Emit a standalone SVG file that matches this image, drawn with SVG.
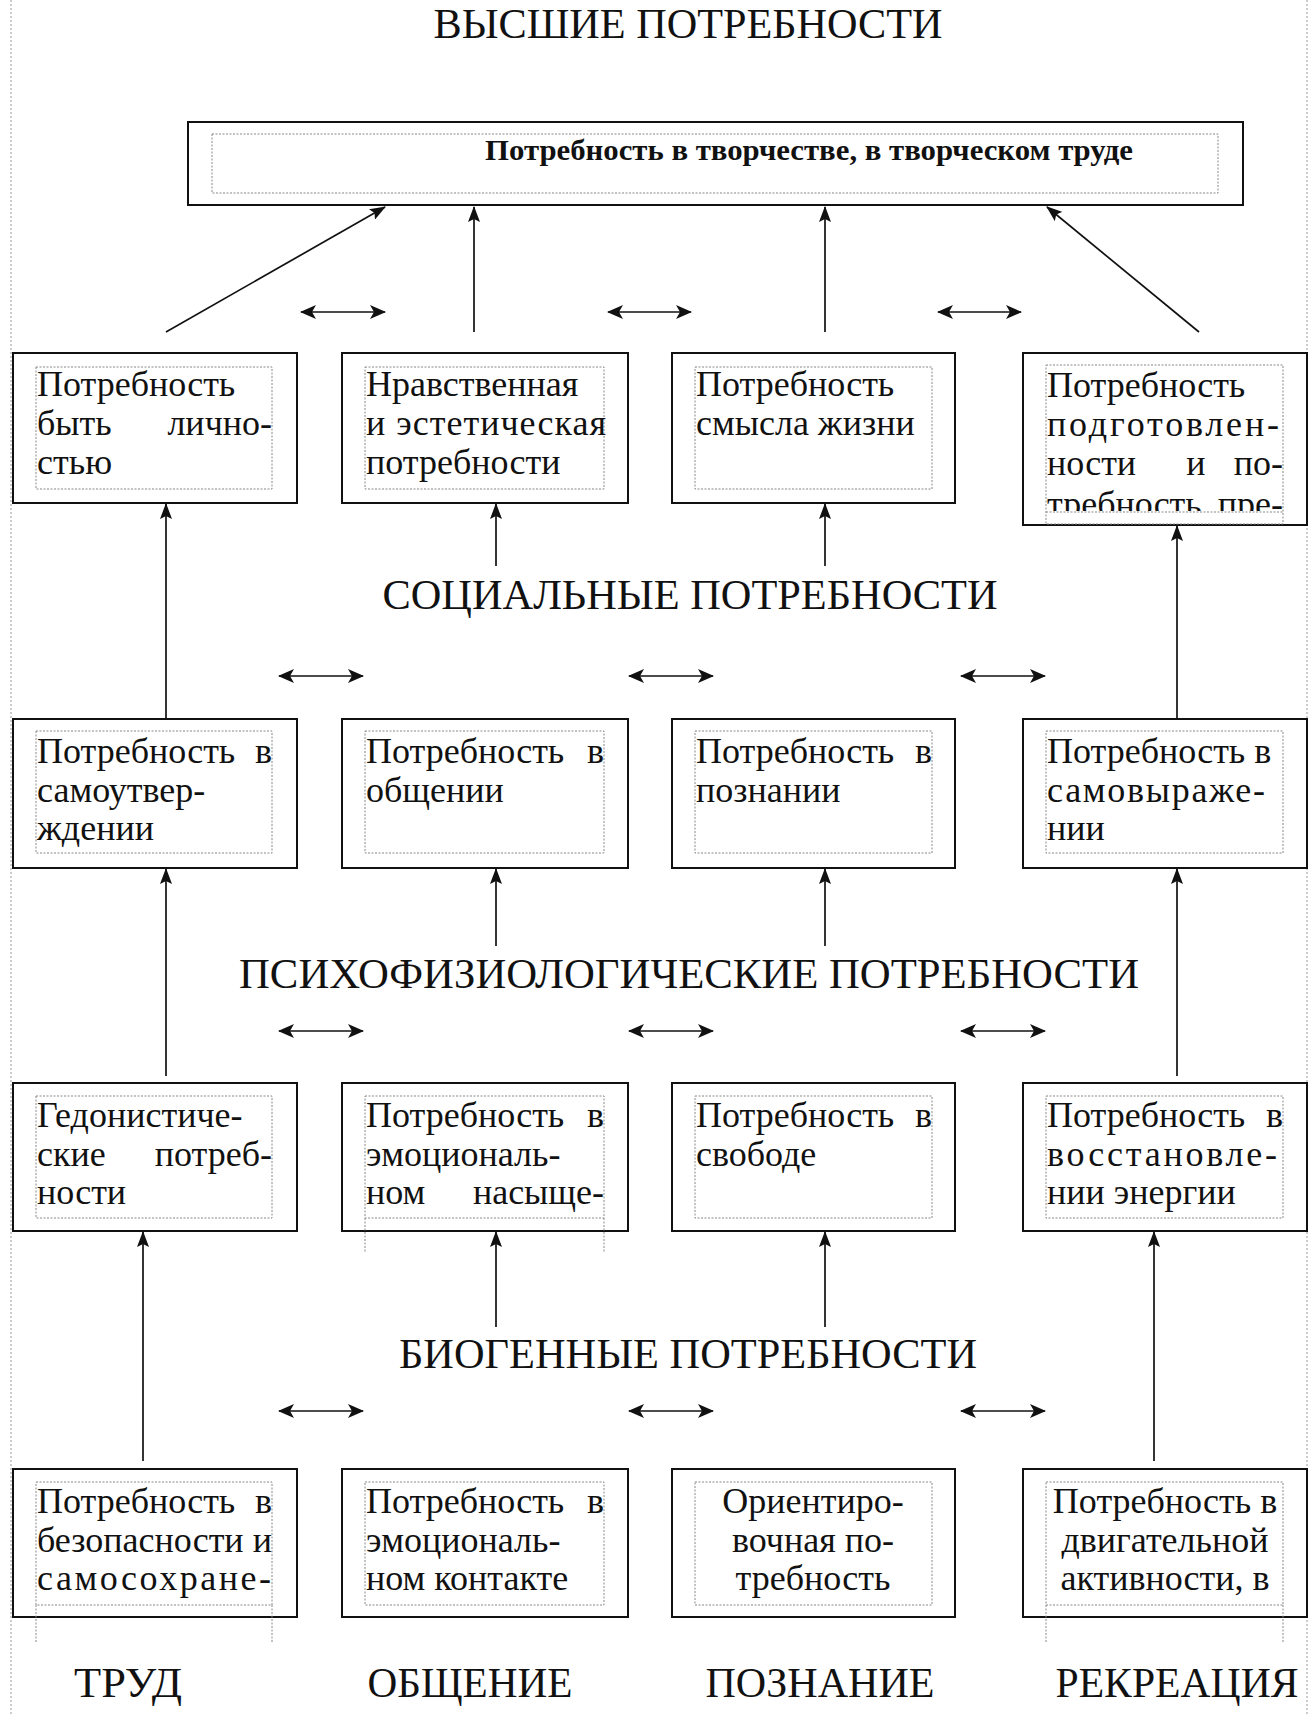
<svg xmlns="http://www.w3.org/2000/svg" width="1314" height="1715" viewBox="0 0 1314 1715">
<style>
  .page{stroke:#999;stroke-width:1;stroke-dasharray:2 2;fill:none}
  .box{fill:#fff;stroke:#111;stroke-width:2}
  .inner{fill:none;stroke:#888;stroke-width:1;stroke-dasharray:2 1.5}
  .t{font-family:"Liberation Serif","Times New Roman",serif;font-size:36px;fill:#111}
  .e{text-anchor:end}
  .m{text-anchor:middle}
  .h{font-family:"Liberation Serif","Times New Roman",serif;font-size:42px;fill:#111;text-anchor:middle}
  .tb{font-family:"Liberation Serif","Times New Roman",serif;font-size:30px;font-weight:bold;fill:#111}
  .ln{stroke:#111;stroke-width:1.7;fill:none}
</style>
<defs>
  <marker id="ah" viewBox="0 0 16 12" refX="15" refY="6" markerWidth="16" markerHeight="12" markerUnits="userSpaceOnUse" orient="auto">
    <path d="M0,0 L16,6 L0,12 L3,6 Z" fill="#111"/>
  </marker>
  <marker id="dh" viewBox="0 0 16 14" refX="15" refY="7" markerWidth="16" markerHeight="14" markerUnits="userSpaceOnUse" orient="auto">
    <path d="M0,0 L16,7 L0,14 L4,7 Z" fill="#111"/>
  </marker>
  <marker id="ds" viewBox="0 0 16 14" refX="1" refY="7" markerWidth="16" markerHeight="14" markerUnits="userSpaceOnUse" orient="auto">
    <path d="M16,0 L0,7 L16,14 L12,7 Z" fill="#111"/>
  </marker>
  <clipPath id="clipD1"><rect x="1040" y="360" width="250" height="151"/></clipPath>
</defs>
<rect x="0" y="0" width="1314" height="1715" fill="#fff"/>
<line class="page" x1="11" y1="0" x2="11" y2="1715"/>
<line class="page" x1="1307" y1="0" x2="1307" y2="1715"/>

<g id="headings">
  <text class="h" x="688" y="38" textLength="509" lengthAdjust="spacingAndGlyphs">ВЫСШИЕ ПОТРЕБНОСТИ</text>
  <text class="h" x="690" y="609" textLength="615" lengthAdjust="spacingAndGlyphs">СОЦИАЛЬНЫЕ ПОТРЕБНОСТИ</text>
  <text class="h" x="689" y="988" textLength="900" lengthAdjust="spacingAndGlyphs">ПСИХОФИЗИОЛОГИЧЕСКИЕ ПОТРЕБНОСТИ</text>
  <text class="h" x="688" y="1368" textLength="578" lengthAdjust="spacingAndGlyphs">БИОГЕННЫЕ ПОТРЕБНОСТИ</text>
  <text class="h" x="128" y="1697" textLength="108" lengthAdjust="spacingAndGlyphs">ТРУД</text>
  <text class="h" x="470" y="1697" textLength="205" lengthAdjust="spacingAndGlyphs">ОБЩЕНИЕ</text>
  <text class="h" x="820" y="1697" textLength="229" lengthAdjust="spacingAndGlyphs">ПОЗНАНИЕ</text>
  <text class="h" x="1177" y="1697" textLength="243" lengthAdjust="spacingAndGlyphs">РЕКРЕАЦИЯ</text>
</g>

<g id="top">
  <rect class="box" x="188" y="122" width="1055" height="83"/>
  <rect class="inner" x="212" y="134" width="1006" height="59"/>
  <text class="tb" x="485" y="160" textLength="648" lengthAdjust="spacingAndGlyphs">Потребность в творчестве, в творческом труде</text>
</g>

<g id="r1a">
  <rect class="box" x="13" y="353" width="284" height="150"/>
  <rect class="inner" x="36" y="367" width="236" height="122"/>
  <text class="t" x="37" y="396">Потребность</text>
  <text class="t" x="37" y="435">быть</text><text class="t e" x="272" y="435">лично-</text>
  <text class="t" x="37" y="474">стью</text>
</g>
<g id="r1b">
  <rect class="box" x="342" y="353" width="286" height="150"/>
  <rect class="inner" x="365" y="367" width="239" height="122"/>
  <text class="t" x="366" y="396">Нравственная</text>
  <text class="t" x="366" y="435" textLength="240" lengthAdjust="spacing">и эстетическая</text>
  <text class="t" x="366" y="474">потребности</text>
</g>
<g id="r1c">
  <rect class="box" x="672" y="353" width="283" height="150"/>
  <rect class="inner" x="695" y="367" width="237" height="122"/>
  <text class="t" x="696" y="396">Потребность</text>
  <text class="t" x="696" y="435">смысла жизни</text>
</g>
<g id="r1d">
  <rect class="box" x="1023" y="353" width="284" height="172"/>
  <rect class="inner" x="1046" y="365" width="237" height="159"/>
  <g clip-path="url(#clipD1)">
    <text class="t" x="1047" y="397">Потребность</text>
    <text class="t" x="1047" y="436" textLength="232" lengthAdjust="spacing">подготовлен-</text>
    <text class="t" x="1047" y="475">ности</text><text class="t m" x="1196" y="475">и</text><text class="t e" x="1283" y="475">по-</text>
    <text class="t" x="1047" y="516">требность</text><text class="t e" x="1283" y="516">пре-</text>
  </g>
  <line class="inner" x1="1046" y1="512" x2="1283" y2="512"/>
</g>

<g id="r2a">
  <rect class="box" x="13" y="719" width="284" height="149"/>
  <rect class="inner" x="36" y="731" width="236" height="122"/>
  <text class="t" x="37" y="763">Потребность</text><text class="t e" x="272" y="763">в</text>
  <text class="t" x="37" y="802">самоутвер-</text>
  <text class="t" x="37" y="840">ждении</text>
</g>
<g id="r2b">
  <rect class="box" x="342" y="719" width="286" height="149"/>
  <rect class="inner" x="365" y="731" width="239" height="122"/>
  <text class="t" x="366" y="763">Потребность</text><text class="t e" x="604" y="763">в</text>
  <text class="t" x="366" y="802">общении</text>
</g>
<g id="r2c">
  <rect class="box" x="672" y="719" width="283" height="149"/>
  <rect class="inner" x="695" y="731" width="237" height="122"/>
  <text class="t" x="696" y="763">Потребность</text><text class="t e" x="932" y="763">в</text>
  <text class="t" x="696" y="802">познании</text>
</g>
<g id="r2d">
  <rect class="box" x="1023" y="719" width="284" height="149"/>
  <rect class="inner" x="1046" y="731" width="237" height="122"/>
  <text class="t" x="1047" y="763">Потребность в</text>
  <text class="t" x="1047" y="802" textLength="218" lengthAdjust="spacing">самовыраже-</text>
  <text class="t" x="1047" y="840">нии</text>
</g>

<g id="r3a">
  <rect class="box" x="13" y="1083" width="284" height="148"/>
  <rect class="inner" x="36" y="1096" width="236" height="122"/>
  <text class="t" x="37" y="1127">Гедонистиче-</text>
  <text class="t" x="37" y="1166">ские</text><text class="t e" x="272" y="1166">потреб-</text>
  <text class="t" x="37" y="1204">ности</text>
</g>
<g id="r3b">
  <rect class="box" x="342" y="1083" width="286" height="148"/>
  <rect class="inner" x="365" y="1096" width="239" height="122"/>
  <line class="inner" x1="365" y1="1218" x2="365" y2="1253"/>
  <line class="inner" x1="604" y1="1218" x2="604" y2="1253"/>
  <text class="t" x="366" y="1127">Потребность</text><text class="t e" x="604" y="1127">в</text>
  <text class="t" x="366" y="1166">эмоциональ-</text>
  <text class="t" x="366" y="1204">ном</text><text class="t e" x="604" y="1204">насыще-</text>
</g>
<g id="r3c">
  <rect class="box" x="672" y="1083" width="283" height="148"/>
  <rect class="inner" x="695" y="1096" width="237" height="122"/>
  <text class="t" x="696" y="1127">Потребность</text><text class="t e" x="932" y="1127">в</text>
  <text class="t" x="696" y="1166">свободе</text>
</g>
<g id="r3d">
  <rect class="box" x="1023" y="1083" width="284" height="148"/>
  <rect class="inner" x="1046" y="1096" width="237" height="122"/>
  <text class="t" x="1047" y="1127">Потребность</text><text class="t e" x="1283" y="1127">в</text>
  <text class="t" x="1047" y="1166" textLength="230" lengthAdjust="spacing">восстановле-</text>
  <text class="t" x="1047" y="1204">нии энергии</text>
</g>

<g id="r4a">
  <rect class="box" x="13" y="1469" width="284" height="148"/>
  <rect class="inner" x="36" y="1482" width="236" height="123"/>
  <line class="inner" x1="36" y1="1605" x2="36" y2="1642"/>
  <line class="inner" x1="272" y1="1605" x2="272" y2="1642"/>
  <text class="t" x="37" y="1513">Потребность</text><text class="t e" x="272" y="1513">в</text>
  <text class="t" x="37" y="1552">безопасности</text><text class="t e" x="272" y="1552">и</text>
  <text class="t" x="37" y="1590" textLength="234" lengthAdjust="spacing">самосохране-</text>
</g>
<g id="r4b">
  <rect class="box" x="342" y="1469" width="286" height="148"/>
  <rect class="inner" x="365" y="1482" width="239" height="123"/>
  <text class="t" x="366" y="1513">Потребность</text><text class="t e" x="604" y="1513">в</text>
  <text class="t" x="366" y="1552">эмоциональ-</text>
  <text class="t" x="366" y="1590">ном контакте</text>
</g>
<g id="r4c">
  <rect class="box" x="672" y="1469" width="283" height="148"/>
  <rect class="inner" x="695" y="1482" width="237" height="123"/>
  <text class="t m" x="813" y="1513">Ориентиро-</text>
  <text class="t m" x="813" y="1552">вочная по-</text>
  <text class="t m" x="813" y="1590">требность</text>
</g>
<g id="r4d">
  <rect class="box" x="1023" y="1469" width="284" height="148"/>
  <rect class="inner" x="1046" y="1482" width="237" height="123"/>
  <line class="inner" x1="1046" y1="1605" x2="1046" y2="1642"/>
  <line class="inner" x1="1283" y1="1605" x2="1283" y2="1642"/>
  <text class="t m" x="1165" y="1513">Потребность в</text>
  <text class="t m" x="1165" y="1552">двигательной</text>
  <text class="t m" x="1165" y="1590">активности, в</text>
</g>

<g id="connectors">
  <line class="ln" x1="166" y1="332" x2="385" y2="207" marker-end="url(#ah)"/>
  <line class="ln" x1="474" y1="332" x2="474" y2="207" marker-end="url(#ah)"/>
  <line class="ln" x1="825" y1="332" x2="825" y2="207" marker-end="url(#ah)"/>
  <line class="ln" x1="1199" y1="332" x2="1047" y2="207" marker-end="url(#ah)"/>
  <line class="ln" x1="301" y1="312" x2="385" y2="312" marker-start="url(#ds)" marker-end="url(#dh)"/>
  <line class="ln" x1="608" y1="312" x2="691" y2="312" marker-start="url(#ds)" marker-end="url(#dh)"/>
  <line class="ln" x1="938" y1="312" x2="1021" y2="312" marker-start="url(#ds)" marker-end="url(#dh)"/>

  <line class="ln" x1="166" y1="719" x2="166" y2="504" marker-end="url(#ah)"/>
  <line class="ln" x1="496" y1="566" x2="496" y2="504" marker-end="url(#ah)"/>
  <line class="ln" x1="825" y1="566" x2="825" y2="504" marker-end="url(#ah)"/>
  <line class="ln" x1="1177" y1="719" x2="1177" y2="526" marker-end="url(#ah)"/>
  <line class="ln" x1="279" y1="676" x2="363" y2="676" marker-start="url(#ds)" marker-end="url(#dh)"/>
  <line class="ln" x1="629" y1="676" x2="713" y2="676" marker-start="url(#ds)" marker-end="url(#dh)"/>
  <line class="ln" x1="961" y1="676" x2="1045" y2="676" marker-start="url(#ds)" marker-end="url(#dh)"/>

  <line class="ln" x1="166" y1="1076" x2="166" y2="869" marker-end="url(#ah)"/>
  <line class="ln" x1="496" y1="946" x2="496" y2="869" marker-end="url(#ah)"/>
  <line class="ln" x1="825" y1="946" x2="825" y2="869" marker-end="url(#ah)"/>
  <line class="ln" x1="1177" y1="1076" x2="1177" y2="869" marker-end="url(#ah)"/>
  <line class="ln" x1="279" y1="1031" x2="363" y2="1031" marker-start="url(#ds)" marker-end="url(#dh)"/>
  <line class="ln" x1="629" y1="1031" x2="713" y2="1031" marker-start="url(#ds)" marker-end="url(#dh)"/>
  <line class="ln" x1="961" y1="1031" x2="1045" y2="1031" marker-start="url(#ds)" marker-end="url(#dh)"/>

  <line class="ln" x1="143" y1="1461" x2="143" y2="1232" marker-end="url(#ah)"/>
  <line class="ln" x1="496" y1="1327" x2="496" y2="1232" marker-end="url(#ah)"/>
  <line class="ln" x1="825" y1="1327" x2="825" y2="1232" marker-end="url(#ah)"/>
  <line class="ln" x1="1154" y1="1461" x2="1154" y2="1232" marker-end="url(#ah)"/>
  <line class="ln" x1="279" y1="1411" x2="363" y2="1411" marker-start="url(#ds)" marker-end="url(#dh)"/>
  <line class="ln" x1="629" y1="1411" x2="713" y2="1411" marker-start="url(#ds)" marker-end="url(#dh)"/>
  <line class="ln" x1="961" y1="1411" x2="1045" y2="1411" marker-start="url(#ds)" marker-end="url(#dh)"/>
</g>
</svg>
